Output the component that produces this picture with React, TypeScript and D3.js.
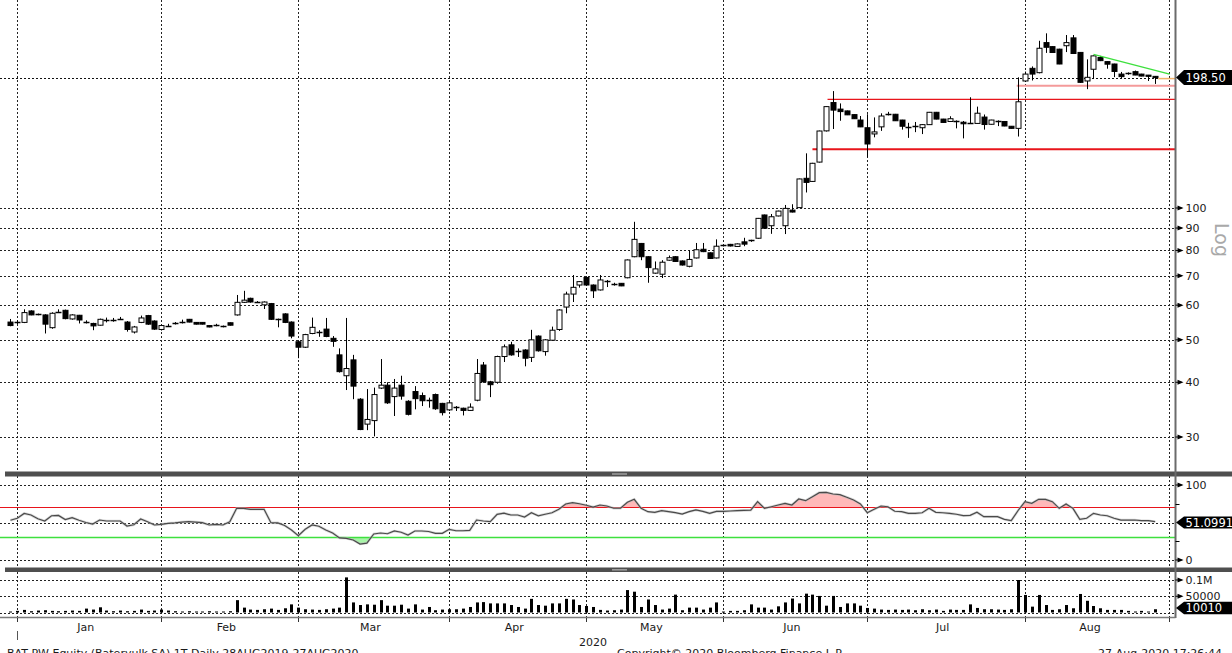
import React from 'react';
import * as d3 from 'd3';

// ---------- DATA ----------
const monthNames = ['Jan', 'Feb', 'Mar', 'Apr', 'May', 'Jun', 'Jul', 'Aug'];
const monthTradingDays = [21, 20, 22, 20, 20, 21, 23, 21];
const yearLabel = '2020';

// [open, high, low, close]
const ohlcDec = [[54.9, 55.8, 53.7, 53.9]];
const ohlcJan = [
  [54.8, 55.4, 54.3, 54.9], [54.8, 58.7, 54.6, 57.7], [58.2, 58.4, 56.9, 57.0], [57.1, 57.4, 56.9, 57.2],
  [57.0, 57.2, 51.7, 54.3], [53.3, 57.8, 53.0, 57.5], [58.0, 58.7, 57.9, 58.0], [58.4, 58.6, 55.7, 55.9],
  [55.8, 57.2, 55.6, 57.0], [56.9, 57.0, 54.5, 55.5], [54.9, 55.4, 54.5, 54.9], [54.5, 54.7, 52.6, 53.8],
  [54.0, 55.9, 53.9, 55.7], [55.5, 56.2, 54.8, 55.5], [55.4, 56.1, 55.0, 55.5], [55.7, 56.4, 55.6, 55.7],
  [54.9, 55.2, 52.2, 52.8], [52.1, 53.8, 51.7, 53.5], [54.8, 56.8, 54.6, 56.1], [56.8, 57.0, 54.1, 54.3],
  [55.2, 55.4, 52.7, 52.9],
];
const ohlcFeb = [
  [52.8, 54.1, 52.5, 53.9], [53.8, 54.4, 53.7, 53.8], [54.3, 54.9, 54.2, 54.6], [54.9, 55.6, 54.5, 54.9],
  [55.7, 55.8, 54.8, 54.9], [54.8, 54.9, 54.2, 54.3], [54.8, 54.9, 54.2, 54.3], [53.9, 54.0, 53.4, 53.5],
  [54.0, 54.4, 53.7, 54.0], [53.8, 53.9, 53.4, 53.5], [54.7, 54.8, 53.9, 54.0], [57.0, 63.3, 56.8, 60.9],
  [60.9, 64.7, 60.7, 61.6], [62.2, 62.4, 60.8, 61.0], [61.0, 61.3, 60.7, 61.0], [60.1, 61.2, 58.8, 61.0],
  [60.5, 60.7, 55.5, 55.7], [55.8, 55.9, 53.4, 55.5], [57.3, 57.5, 54.6, 54.8], [54.9, 55.1, 50.4, 51.0],
];
const ohlcMar = [
  [49.5, 49.7, 45.4, 48.1], [48.1, 51.6, 47.9, 51.4], [51.7, 56.2, 51.5, 53.4], [52.2, 52.6, 50.8, 52.2],
  [52.9, 56.1, 50.7, 50.9], [50.4, 51.0, 48.2, 49.6], [46.2, 47.8, 42.1, 42.3], [41.4, 56.1, 38.4, 43.0],
  [45.0, 46.2, 36.6, 39.2], [36.6, 36.8, 31.1, 31.2], [32.1, 38.6, 31.1, 32.9], [32.7, 38.9, 30.1, 37.5],
  [38.8, 45.2, 38.6, 39.4], [39.4, 40.0, 35.7, 35.9], [37.1, 40.7, 33.5, 38.8], [39.4, 41.4, 36.5, 37.2],
  [36.2, 36.4, 33.6, 33.8], [38.1, 39.2, 34.7, 36.7], [37.3, 37.9, 35.3, 36.3], [36.4, 36.9, 35.0, 36.4],
  [37.5, 37.7, 34.6, 34.8], [35.8, 35.9, 33.6, 34.1],
];
const ohlcApr = [
  [34.6, 36.1, 34.4, 35.9], [35.1, 35.3, 34.4, 35.1], [34.9, 35.0, 33.6, 34.5], [34.5, 35.8, 34.4, 35.1],
  [36.4, 45.2, 36.2, 41.9], [43.8, 44.5, 39.9, 40.1], [40.1, 40.3, 37.0, 39.5], [40.0, 46.0, 39.7, 45.8],
  [45.8, 48.8, 44.5, 48.2], [48.7, 49.5, 46.0, 46.2], [47.2, 47.8, 45.7, 47.2], [47.4, 47.6, 43.5, 45.4],
  [45.6, 52.7, 44.5, 50.0], [51.0, 51.2, 47.0, 47.2], [47.0, 50.2, 46.0, 50.0], [49.9, 53.6, 49.7, 52.6],
  [52.8, 58.7, 52.4, 58.5], [59.4, 64.4, 57.5, 63.6], [63.6, 70.3, 61.0, 65.9], [66.7, 68.1, 65.8, 67.9],
];
const ohlcMay = [
  [69.4, 69.6, 66.5, 66.7], [66.7, 66.9, 62.3, 64.7], [65.0, 70.3, 64.8, 68.5], [68.2, 68.5, 66.0, 68.2],
  [67.0, 67.5, 66.5, 67.0], [67.3, 67.4, 66.3, 66.4], [69.3, 76.3, 69.1, 76.1], [77.4, 93.0, 77.2, 84.8],
  [83.0, 83.2, 76.0, 77.4], [77.4, 77.6, 67.5, 73.1], [71.0, 75.5, 70.8, 72.6], [70.6, 76.0, 69.2, 75.2],
  [76.0, 77.9, 75.8, 77.0], [77.4, 77.6, 75.3, 75.5], [75.7, 75.9, 73.9, 74.1], [73.6, 80.0, 73.2, 76.3],
  [76.9, 83.2, 76.7, 80.3], [80.5, 83.2, 79.3, 79.5], [79.0, 79.2, 76.5, 76.7], [76.9, 84.8, 76.7, 81.8],
];
const ohlcJun = [
  [82.2, 82.4, 81.7, 81.9], [82.6, 82.8, 81.7, 81.9], [81.7, 83.0, 81.5, 82.8], [83.7, 85.5, 81.8, 82.7],
  [84.4, 84.6, 83.7, 83.9], [85.3, 94.9, 85.1, 94.7], [96.4, 96.6, 89.7, 89.9], [91.1, 96.9, 87.3, 95.5],
  [95.9, 98.6, 95.7, 98.4], [91.1, 101.6, 87.2, 99.8], [98.9, 102.0, 97.7, 97.9], [100.2, 116.7, 100.0, 116.5],
  [116.9, 133.3, 108.5, 114.4], [115.0, 126.8, 114.7, 126.5], [127.3, 150.2, 127.0, 149.9], [150.0, 170.7, 149.5, 170.4],
  [174.1, 184.9, 151.5, 167.3], [168.2, 173.3, 158.2, 166.0], [166.6, 166.9, 163.0, 163.2], [163.4, 163.6, 159.7, 159.9],
  [158.8, 162.2, 153.0, 153.2],
];
const ohlcJul = [
  [152.5, 163.7, 130.5, 140.0], [147.6, 161.0, 145.0, 149.2], [153.2, 164.5, 150.0, 162.2], [163.9, 165.8, 162.7, 163.9],
  [163.7, 164.0, 158.0, 158.2], [158.8, 159.0, 151.0, 153.7], [153.2, 156.5, 144.6, 153.2], [153.7, 157.2, 149.0, 153.7],
  [152.5, 155.5, 147.5, 155.0], [155.0, 165.7, 154.8, 165.4], [165.4, 165.7, 159.4, 159.6], [159.6, 159.8, 156.6, 156.8],
  [157.6, 162.0, 157.4, 159.9], [157.6, 158.5, 152.0, 157.6], [157.0, 158.0, 144.2, 155.7], [156.5, 179.0, 155.8, 156.0],
  [156.0, 170.4, 155.8, 164.6], [161.3, 163.5, 151.0, 155.1], [155.3, 159.0, 155.1, 158.8], [157.6, 158.5, 153.8, 157.6],
  [157.6, 157.8, 153.7, 153.9], [153.7, 153.9, 151.8, 152.0], [152.0, 198.8, 145.6, 174.8],
];
const ohlcAug = [
  [195.0, 204.9, 194.0, 202.2], [208.4, 210.5, 195.5, 202.2], [203.7, 240.9, 203.0, 231.6], [238.6, 250.5, 226.0, 232.8],
  [233.6, 234.0, 226.0, 226.5], [230.5, 231.0, 213.0, 213.2], [234.7, 248.3, 227.0, 238.6], [244.6, 248.3, 225.0, 225.3],
  [226.6, 227.0, 193.0, 193.6], [195.0, 218.5, 186.8, 198.8], [207.4, 223.0, 197.0, 222.5], [220.6, 222.5, 216.5, 217.0],
  [215.9, 216.2, 208.0, 213.0], [213.2, 213.5, 199.0, 205.0], [202.2, 204.5, 198.0, 199.5], [202.9, 204.0, 201.5, 202.9],
  [204.8, 206.0, 201.0, 201.2], [202.2, 202.5, 199.9, 200.1], [201.1, 201.3, 195.0, 199.8], [199.8, 200.2, 192.0, 198.5],
];

const volDec = [3000];
const volJan = [5000, 8000, 4000, 6000, 7000, 5000, 4000, 5000, 6000, 5000, 12000, 9000, 16000, 6000, 4000, 6000, 4000, 5000, 9000, 5000, 6000];
const volFeb = [9000, 6000, 4000, 3000, 4000, 3000, 3000, 4000, 3000, 3000, 4000, 38000, 15000, 9000, 8000, 10000, 12000, 8000, 13000, 25000];
const volMar = [15000, 10000, 9000, 8000, 10000, 12000, 15000, 108000, 31000, 23000, 25000, 24000, 38000, 21000, 21000, 24000, 12000, 25000, 9000, 17000, 7000, 9000];
const volApr = [10000, 10000, 12000, 17000, 31000, 32000, 28000, 28000, 28000, 23000, 17000, 12000, 42000, 23000, 21000, 28000, 28000, 42000, 40000, 23000];
const volMay = [20000, 17000, 8000, 6000, 7000, 9000, 69000, 64000, 17000, 40000, 23000, 9000, 12000, 55000, 7000, 15000, 15000, 9000, 15000, 31000];
const volJun = [3000, 5000, 5000, 7000, 25000, 15000, 15000, 9000, 19000, 31000, 43000, 28000, 58000, 55000, 51000, 21000, 51000, 17000, 28000, 28000, 21000];
const volJul = [14000, 12000, 9000, 8000, 9000, 8000, 9000, 7000, 10000, 7000, 9000, 5000, 9000, 8000, 8000, 25000, 14000, 10000, 10000, 9000, 8000, 10000, 100000];
const volAug = [54000, 18000, 54000, 23000, 8000, 10000, 23000, 13000, 57000, 36000, 20000, 13000, 8000, 8000, 8000, 5000, 3000, 5000, 3000, 10010];

const rsiDec = [53];
const rsiJan = [55.6, 62, 60, 55, 52, 59, 59.5, 54, 56.4, 53, 50, 48, 53.3, 52, 52, 52, 45.3, 47, 54.7, 51, 46.7];
const rsiFeb = [47.5, 48.9, 49.5, 50.5, 51.1, 50.5, 49.8, 46.7, 47.5, 46.7, 51.1, 68.9, 68.9, 67.6, 67.6, 67.6, 49.8, 49.5, 46, 40];
const rsiMar = [32.4, 40.9, 46.7, 45, 40, 36, 29.5, 28.9, 26.7, 21.3, 22.5, 34.7, 36, 35, 38.7, 37, 33.3, 38.7, 38.7, 38, 35.6, 35.6];
const rsiApr = [40.9, 39, 39, 39.5, 53.3, 52, 51.1, 60.9, 62.5, 60, 60, 57.3, 63.1, 59, 61, 63, 67.6, 74.7, 76.4, 75];
const rsiMay = [73, 70.5, 73.3, 72, 69, 69, 76.9, 80.9, 68.9, 64.4, 63.5, 65.8, 64.5, 63.1, 61.3, 64.5, 66.7, 64.9, 62.2, 64.9];
const rsiJun = [64.9, 65.3, 65.8, 66.2, 66.5, 77.8, 68.9, 71, 73.3, 75.6, 73.3, 81.3, 79.1, 84.4, 89.8, 90.2, 88, 87.1, 83.6, 80, 74.7];
const rsiJul = [63.1, 67.6, 72, 71, 65, 64.4, 62.2, 62.2, 63, 68.9, 63.6, 63, 62.2, 61, 59.1, 59.5, 63.6, 57.8, 58, 57.8, 54.2, 52.4, 66];
const rsiAug = [77.8, 75.6, 80.9, 80.9, 77.8, 68.9, 74.7, 68.9, 54.2, 55.6, 62.2, 60, 59, 55.6, 53.3, 53.3, 53.3, 52.4, 52.4, 51.1];

const priceTicks = [30, 40, 50, 60, 70, 80, 90, 100];
const lastPrice = 198.5;
const lastRsi = 51.0991;
const lastVolume = 10010;
const rsiUpper = 70;
const rsiLower = 30;
// horizontal levels drawn by the analyst: price and starting bar index
const levelPrices = [136.2, 177.1, 190.2];
const levelStarts = [116, 118.2, 145.8];
const levelColors = ['#e8141b', '#e8141b', '#f49a9a'];
const levelWidths = [2, 1.3, 2];
// falling trend line (bar index, price)
const trendIdx = [157, 168.1];
const trendPrice = [224.3, 202.2];

const footerLeft = 'BAT PW Equity (Bateryulk SA) 1T  Daily 28AUG2019-27AUG2020';
const footerMid = 'Copyright\u00A9 2020 Bloomberg Finance L.P.';
const footerRight = '27-Aug-2020 17:26:44';

// ---------- CHART ----------
const W = 1232;
const H = 653;
const AX = 1175.5; // right axis line
const FONT = 'DejaVu Sans, Verdana, sans-serif';

const ohlc = [...ohlcDec, ...ohlcJan, ...ohlcFeb, ...ohlcMar, ...ohlcApr, ...ohlcMay, ...ohlcJun, ...ohlcJul, ...ohlcAug];
const volumes = [...volDec, ...volJan, ...volFeb, ...volMar, ...volApr, ...volMay, ...volJun, ...volJul, ...volAug];
const rsi = [...rsiDec, ...rsiJan, ...rsiFeb, ...rsiMar, ...rsiApr, ...rsiMay, ...rsiJun, ...rsiJul, ...rsiAug];
const FIRST = -ohlcDec.length;

const monthStarts: number[] = [0];
monthTradingDays.forEach((d, k) => monthStarts.push(monthStarts[k] + d));
const lastIdx = FIRST + ohlc.length - 1;

const x = d3.scaleLinear().domain([0, monthStarts[monthStarts.length - 1]]).range([17.3, 1168.9]);
const yP = d3.scaleLog().domain([30, 100]).range([437, 208]);
const yR = d3.scaleLinear().domain([0, 100]).range([560, 485]);
const yV = d3.scaleLinear().domain([0, 100000]).range([612.5, 580]);

const px = (v: number) => Math.round(v) + 0.5;

function Arrow({ y }: { y: number }) {
  return (
    <g>
      <line x1={AX} x2={AX + 6} y1={y} y2={y} stroke="#000" strokeWidth={1} />
      <polygon points={`${AX + 2},${y - 2.5} ${AX + 8},${y} ${AX + 2},${y + 2.5}`} fill="#000" />
    </g>
  );
}

function ValueBox({ y, text, h }: { y: number; text: string; h: number }) {
  const t = y - h / 2;
  const b = y + h / 2;
  return (
    <g>
      <polygon points={`${AX + 0.5},${y} ${AX + 8.5},${t} ${W},${t} ${W},${b} ${AX + 8.5},${b}`} fill="#000" />
      <text x={AX + 10} y={y} dy="0.36em" fill="#fff" fontSize={11.5} fontFamily={FONT}>{text}</text>
    </g>
  );
}

export default function App() {
  const gridDash = '2,2';
  const rsiLine = d3.line<number>().x((_, k) => x(k + FIRST)).y((v) => yR(v));
  const upperArea = d3.area<number>().x((_, k) => x(k + FIRST)).y1((v) => yR(v)).y0(yR(rsiUpper))(rsi) || '';
  const lowerArea = d3.area<number>().x((_, k) => x(k + FIRST)).y1((v) => yR(v)).y0(yR(rsiLower))(rsi) || '';

  const monthMid = monthNames.map((_, k) => {
    const s = monthStarts[k];
    const e = Math.min(monthStarts[k + 1], lastIdx + 1);
    return x((s + e - 1) / 2);
  });

  return (
    <svg width={W} height={H} style={{ position: 'absolute', left: 0, top: 0, background: '#fff' }}>
      <defs>
        <clipPath id="clipUp"><rect x={0} y={480} width={AX} height={yR(rsiUpper) - 480} /></clipPath>
        <clipPath id="clipDn"><rect x={0} y={yR(rsiLower)} width={AX} height={565 - yR(rsiLower)} /></clipPath>
      </defs>
      <rect x={0} y={0} width={W} height={H} fill="#fff" />

      {/* vertical month gridlines */}
      {monthStarts.map((s, k) => (
        <line key={'vg' + k} x1={px(x(s))} x2={px(x(s))} y1={0} y2={617} stroke="#222" strokeDasharray={gridDash} />
      ))}

      {/* price gridlines */}
      {priceTicks.map((t) => (
        <line key={'pg' + t} x1={0} x2={AX} y1={px(yP(t))} y2={px(yP(t))} stroke="#222" strokeDasharray={gridDash} />
      ))}
      <line x1={0} x2={AX} y1={px(yP(lastPrice))} y2={px(yP(lastPrice))} stroke="#111" strokeDasharray={gridDash} />

      {/* analyst levels */}
      {levelPrices.map((p, k) => (
        <line key={'lv' + k} x1={x(levelStarts[k])} x2={AX} y1={yP(p)} y2={yP(p)} stroke={levelColors[k]} strokeWidth={levelWidths[k]} />
      ))}

      {/* candles */}
      {ohlc.map((c, k) => {
        const i = k + FIRST;
        const cx = px(x(i));
        const [o, h, l, cl] = c;
        const up = cl > o;
        const yt = yP(Math.max(o, cl));
        const yb = yP(Math.min(o, cl));
        return (
          <g key={'c' + k}>
            <line x1={cx} x2={cx} y1={yP(h)} y2={yP(l)} stroke="#000" strokeWidth={1} />
            {yb - yt < 1.2 ? (
              <line x1={cx - 3} x2={cx + 3} y1={Math.round(yt) + 0.5} y2={Math.round(yt) + 0.5} stroke="#000" strokeWidth={1.5} />
            ) : (
              <rect x={cx - 2.5} y={yt} width={5} height={yb - yt} fill={up ? '#fff' : '#000'} stroke="#000" strokeWidth={1} />
            )}
          </g>
        );
      })}

      {/* trend line */}
      <line x1={x(trendIdx[0])} y1={yP(trendPrice[0])} x2={x(trendIdx[1])} y2={yP(trendPrice[1])} stroke="#3ee03e" strokeWidth={1.4} />
      <line x1={x(lastIdx) + 3} x2={AX} y1={yP(lastPrice) + 1} y2={yP(lastPrice) + 1} stroke="#f2b36b" strokeWidth={1.5} />

      {/* RSI panel */}
      {[0, 50, 100].map((t) => (
        <line key={'rg' + t} x1={0} x2={AX} y1={px(yR(t))} y2={px(yR(t))} stroke="#222" strokeDasharray={gridDash} />
      ))}
      <path d={upperArea} fill="#ffb9b9" clipPath="url(#clipUp)" />
      <path d={lowerArea} fill="#a8f5a8" clipPath="url(#clipDn)" />
      <line x1={0} x2={AX} y1={yR(rsiUpper)} y2={yR(rsiUpper)} stroke="#e8141b" strokeWidth={1.2} />
      <line x1={0} x2={AX} y1={yR(rsiLower)} y2={yR(rsiLower)} stroke="#3ee03e" strokeWidth={1.4} />
      <path d={rsiLine(rsi) || ''} fill="none" stroke="#bdbdbd" strokeWidth={2.6} opacity={0.6} />
      <path d={rsiLine(rsi) || ''} fill="none" stroke="#4a4a4a" strokeWidth={1.2} />

      {/* volume panel */}
      {[0, 50000, 100000].map((t) => (
        <line key={'vgl' + t} x1={0} x2={AX} y1={px(yV(t))} y2={px(yV(t))} stroke="#222" strokeDasharray={gridDash} />
      ))}
      {volumes.map((v, k) => {
        const cx = Math.round(x(k + FIRST));
        return <rect key={'v' + k} x={cx - 1} y={yV(v)} width={3} height={yV(0) - yV(v)} fill="#000" />;
      })}

      {/* panel separators */}
      <rect x={5} y={471.5} width={W - 5} height={5} fill="#4f4f4f" />
      <rect x={612} y={473.2} width={15} height={1.6} fill="#9a9a9a" />
      <rect x={5} y={567.5} width={W - 5} height={4.5} fill="#4f4f4f" />
      <rect x={612} y={569} width={15} height={1.6} fill="#9a9a9a" />

      {/* right axis */}
      <line x1={AX} x2={AX} y1={0} y2={618} stroke="#6b6b6b" strokeWidth={2} />
      {priceTicks.map((t) => (
        <g key={'pt' + t}>
          <Arrow y={yP(t)} />
          <text x={AX + 10} y={yP(t)} dy="0.36em" fontSize={11} fill="#1a1a1a" fontFamily={FONT}>{t}</text>
        </g>
      ))}
      <ValueBox y={yP(lastPrice)} text={lastPrice.toFixed(2)} h={15} />
      <text transform={`translate(1215,223) rotate(90)`} fontSize={19} fill="#a9a9a9" fontFamily={FONT}>Log</text>

      {[0, 100].map((t) => (
        <g key={'rt' + t}>
          <Arrow y={yR(t)} />
          <text x={AX + 10} y={yR(t)} dy="0.36em" fontSize={11} fill="#1a1a1a" fontFamily={FONT}>{t}</text>
        </g>
      ))}
      {[25, 75].map((t) => (
        <line key={'rs' + t} x1={AX} x2={AX + 4} y1={px(yR(t))} y2={px(yR(t))} stroke="#000" />
      ))}
      <ValueBox y={yR(lastRsi) + 0.8} text={String(lastRsi)} h={12} />

      {[100000, 50000].map((t) => (
        <g key={'vt' + t}>
          <Arrow y={yV(t)} />
          <text x={AX + 10} y={yV(t)} dy="0.36em" fontSize={11} fill="#1a1a1a" fontFamily={FONT}>{t === 100000 ? '0.1M' : d3.format('d')(t)}</text>
        </g>
      ))}
      <ValueBox y={yV(lastVolume) - 1.2} text={String(lastVolume)} h={12.5} />

      {/* x axis */}
      <line x1={0} x2={AX} y1={617.5} y2={617.5} stroke="#7a7a7a" strokeWidth={1.5} />
      {monthStarts.map((s, k) => (
        <line key={'xt' + k} x1={px(x(s))} x2={px(x(s))} y1={618} y2={622} stroke="#333" />
      ))}
      {monthNames.map((m, k) => (
        <text key={'ml' + k} x={monthMid[k]} y={631} textAnchor="middle" fontSize={11} fill="#1a1a1a" fontFamily={FONT}>{m}</text>
      ))}
      <line x1={px(x(0))} x2={px(x(0))} y1={631} y2={640} stroke="#555" />
      <text x={(x(0) + x(monthStarts[monthStarts.length - 1])) / 2} y={646} textAnchor="middle" fontSize={11} fill="#1a1a1a" fontFamily={FONT}>{yearLabel}</text>

      {/* footer (cut by the window edge, as in the reference) */}
      <text x={7} y={657} fontSize={11} fill="#1a1a1a" fontFamily={FONT}>{footerLeft}</text>
      <text x={617} y={657} fontSize={11} fill="#1a1a1a" fontFamily={FONT}>{footerMid}</text>
      <text x={1098} y={657} fontSize={11} fill="#1a1a1a" fontFamily={FONT}>{footerRight}</text>
    </svg>
  );
}
